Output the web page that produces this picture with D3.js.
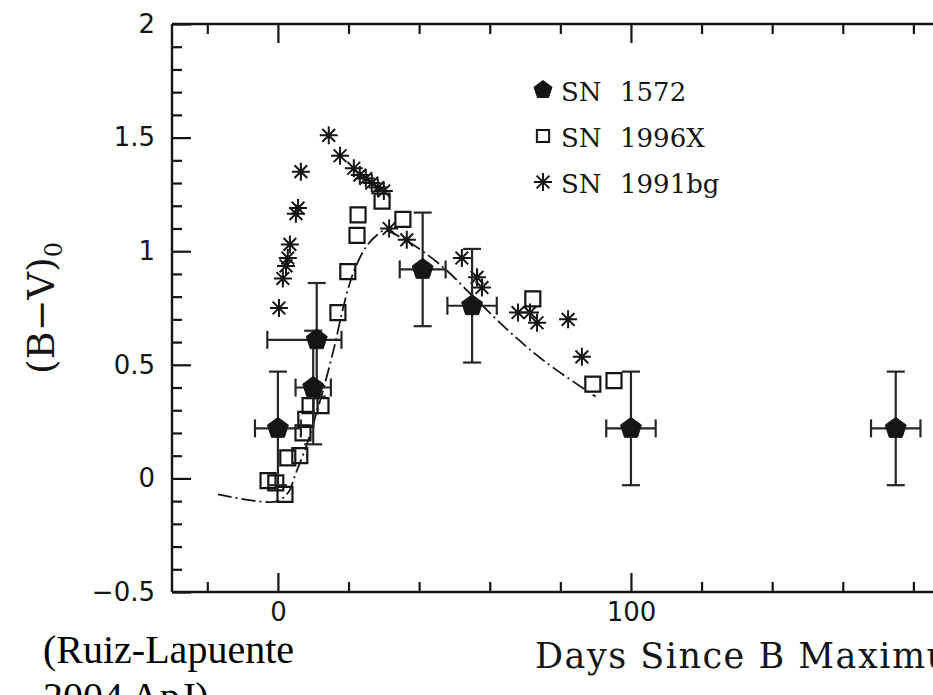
<!DOCTYPE html>
<html>
<head>
<meta charset="utf-8">
<script src="https://cdn.jsdelivr.net/npm/d3@7"></script>
<style>
  html, body { margin: 0; padding: 0; background: #fff; }
  svg { display: block; overflow: hidden; }
</style>
</head>
<body>
<svg id="chart" width="933" height="695"></svg>
<script>
// ---------------- DATA ----------------
// SN 1572 (filled pentagons with error bars)
const sn1572Day   = [0, 10, 11, 41, 55, 100, 175];
const sn1572BV    = [0.22, 0.40, 0.61, 0.92, 0.76, 0.22, 0.22];
const sn1572DayLo = [6.5, 5, 14, 6.5, 7, 7, 7];
const sn1572DayHi = [6.5, 5, 7, 6.5, 7, 7, 7];
const sn1572BVErr = [0.25, 0.25, 0.25, 0.25, 0.25, 0.25, 0.25];

// SN 1996X (open squares)
const sn1996xDay = [-2.8, -0.6, 2.0, 2.8, 6.2, 7.1, 7.9, 9.1, 12.2, 17.0, 19.8, 22.4, 22.7, 29.5, 35.4, 72.2, 89.2, 95.2];
const sn1996xBV  = [-0.01, -0.02, -0.07, 0.09, 0.10, 0.20, 0.26, 0.32, 0.32, 0.73, 0.91, 1.07, 1.16, 1.22, 1.14, 0.79, 0.415, 0.43];

// SN 1991bg (asterisks)
const sn1991bgDay = [14.4, 17.6, 21.5, 23.2, 24.9, 26.6, 28.3, 30.0, 31.5, 6.5, 5.7, 5.1, 3.4, 2.8, 2.3, 1.4, 0.3, 36.5, 52.1, 56.4, 57.8, 68.0, 71.4, 73.4, 82.2, 86.1];
const sn1991bgBV  = [1.51, 1.42, 1.365, 1.335, 1.32, 1.30, 1.28, 1.265, 1.10, 1.35, 1.19, 1.165, 1.03, 0.97, 0.935, 0.88, 0.75, 1.05, 0.97, 0.885, 0.84, 0.73, 0.73, 0.685, 0.70, 0.535];

// Template curve (dash-dot)
const curveDay = [-17, -6, 0, 3, 5, 8, 10, 13, 16, 18, 20, 22, 25, 28, 30, 36, 46, 56, 66, 76, 90];
const curveBV  = [-0.07, -0.10, -0.10, -0.06, 0.02, 0.14, 0.24, 0.40, 0.58, 0.72, 0.84, 0.93, 1.02, 1.07, 1.09, 1.05, 0.94, 0.79, 0.64, 0.51, 0.36];

// Ticks
const xMajorTicks = [0, 100];
const xMajorLabels = ["0", "100"];
const xMinorTicks = [-20, 20, 40, 60, 80, 120, 140, 160, 180];
const yMajorTicks = [-0.5, 0, 0.5, 1, 1.5, 2];
const yMajorLabels = ["\u22120.5", "0", "0.5", "1", "1.5", "2"];
const yMinorTicks = [-0.4, -0.3, -0.2, -0.1, 0.1, 0.2, 0.3, 0.4, 0.6, 0.7, 0.8, 0.9, 1.1, 1.2, 1.3, 1.4, 1.6, 1.7, 1.8, 1.9];

const legendNames = ["1572", "1996X", "1991bg"];
const xTitle = "Days Since B Maximum";
const noteLines = ["(Ruiz-Lapuente", "2004 ApJ)"];

// ---------------- DRAW ----------------
const svg = d3.select("#chart");
const ink = "#151515";
const x = d3.scaleLinear().domain([-30, 200]).range([172, 984]);
const y = d3.scaleLinear().domain([-0.5, 2]).range([592, 24]);

const tickFont = "'DejaVu Sans', sans-serif";
const serif = "'DejaVu Serif', serif";

function styleAxis(g) {
  g.select(".domain").remove();
  g.selectAll(".tick line").attr("stroke", ink).attr("stroke-width", 2.2);
  g.selectAll(".tick text").attr("fill", ink).style("font-family", tickFont).style("font-size", "26px");
}

// bottom axis
svg.append("g").attr("transform", `translate(0,${y(-0.5)})`)
  .call(d3.axisBottom(x).tickValues(xMajorTicks).tickSize(-19).tickPadding(11)
    .tickFormat((d, i) => xMajorLabels[i])).call(styleAxis);
svg.append("g").attr("transform", `translate(0,${y(-0.5)})`)
  .call(d3.axisBottom(x).tickValues(xMinorTicks).tickSize(-10).tickFormat("")).call(styleAxis);
// top axis
svg.append("g").attr("transform", `translate(0,${y(2)})`)
  .call(d3.axisTop(x).tickValues(xMajorTicks).tickSize(-19).tickFormat("")).call(styleAxis);
svg.append("g").attr("transform", `translate(0,${y(2)})`)
  .call(d3.axisTop(x).tickValues(xMinorTicks).tickSize(-10).tickFormat("")).call(styleAxis);
// left axis
svg.append("g").attr("transform", `translate(${x(-30)},0)`)
  .call(d3.axisLeft(y).tickValues(yMajorTicks).tickSize(-19).tickPadding(17)
    .tickFormat((d, i) => yMajorLabels[i])).call(styleAxis);
svg.append("g").attr("transform", `translate(${x(-30)},0)`)
  .call(d3.axisLeft(y).tickValues(yMinorTicks).tickSize(-10).tickFormat("")).call(styleAxis);

// frame lines
const frame = svg.append("g").attr("stroke", ink).attr("stroke-width", 2.4).attr("fill", "none");
frame.append("line").attr("x1", x(-30)).attr("x2", x(200)).attr("y1", y(-0.5)).attr("y2", y(-0.5));
frame.append("line").attr("x1", x(-30)).attr("x2", x(200)).attr("y1", y(2)).attr("y2", y(2));
frame.append("line").attr("x1", x(-30)).attr("x2", x(-30)).attr("y1", y(-0.5)).attr("y2", y(2));

// template curve
const curvePts = curveDay.map((d, i) => [d, curveBV[i]]);
svg.append("path")
  .attr("d", d3.line().x(d => x(d[0])).y(d => y(d[1])).curve(d3.curveCatmullRom.alpha(0.5))(curvePts))
  .attr("fill", "none").attr("stroke", ink).attr("stroke-width", 1.8)
  .attr("stroke-dasharray", "14,4,2,4");

// symbols
const pentagon = {
  draw(ctx, size) {
    const r = Math.sqrt(size);
    for (let i = 0; i < 5; i++) {
      const a = -Math.PI / 2 + i * 2 * Math.PI / 5;
      const px = r * Math.cos(a), py = r * Math.sin(a);
      if (i === 0) ctx.moveTo(px, py); else ctx.lineTo(px, py);
    }
    ctx.closePath();
  }
};
const star8 = {
  draw(ctx, size) {
    const r = Math.sqrt(size);
    for (let i = 0; i < 4; i++) {
      const a = i * Math.PI / 4;
      ctx.moveTo(-r * Math.cos(a), -r * Math.sin(a));
      ctx.lineTo(r * Math.cos(a), r * Math.sin(a));
    }
  }
};

// SN 1996X squares
const sqData = sn1996xDay.map((d, i) => ({ d, v: sn1996xBV[i] }));
svg.append("g").selectAll("path").data(sqData).join("path")
  .attr("transform", p => `translate(${x(p.d)},${y(p.v)})`)
  .attr("d", d3.symbol().type(d3.symbolSquare).size(225))
  .attr("fill", "none").attr("stroke", ink).attr("stroke-width", 2.2);

// SN 1991bg asterisks
const stData = sn1991bgDay.map((d, i) => ({ d, v: sn1991bgBV[i] }));
svg.append("g").selectAll("path").data(stData).join("path")
  .attr("transform", p => `translate(${x(p.d)},${y(p.v)})`)
  .attr("d", d3.symbol().type(star8).size(81))
  .attr("fill", "none").attr("stroke", ink).attr("stroke-width", 2);

// SN 1572 error bars
const pData = sn1572Day.map((d, i) => ({ d, v: sn1572BV[i], lo: sn1572DayLo[i], hi: sn1572DayHi[i], e: sn1572BVErr[i] }));
const eb = svg.append("g").attr("stroke", "#262626").attr("stroke-width", 2.2);
const cap = 9;
pData.forEach(p => {
  const cx = x(p.d), cy = y(p.v);
  const xl = x(p.d - p.lo), xr = x(p.d + p.hi), yt = y(p.v + p.e), yb = y(p.v - p.e);
  eb.append("line").attr("x1", xl).attr("x2", xr).attr("y1", cy).attr("y2", cy);
  eb.append("line").attr("x1", cx).attr("x2", cx).attr("y1", yt).attr("y2", yb);
  eb.append("line").attr("x1", xl).attr("x2", xl).attr("y1", cy - cap).attr("y2", cy + cap);
  eb.append("line").attr("x1", xr).attr("x2", xr).attr("y1", cy - cap).attr("y2", cy + cap);
  eb.append("line").attr("x1", cx - cap).attr("x2", cx + cap).attr("y1", yt).attr("y2", yt);
  eb.append("line").attr("x1", cx - cap).attr("x2", cx + cap).attr("y1", yb).attr("y2", yb);
});
svg.append("g").selectAll("path").data(pData).join("path")
  .attr("transform", p => `translate(${x(p.d)},${y(p.v)})`)
  .attr("d", d3.symbol().type(pentagon).size(121))
  .attr("fill", ink).attr("stroke", ink).attr("stroke-width", 1);

// legend
const legendTypes = [pentagon, d3.symbolSquare, star8];
const legendSizes = [100, 150, 81];
const lg = svg.append("g");
legendNames.forEach((name, i) => {
  const ly = 90 + i * 46;
  const sym = lg.append("path").attr("transform", `translate(543,${ly})`)
    .attr("d", d3.symbol().type(legendTypes[i]).size(legendSizes[i]));
  if (i === 0) sym.attr("fill", ink);
  else sym.attr("fill", "none").attr("stroke", ink).attr("stroke-width", 2);
  const t = lg.append("text").attr("y", ly + 11).attr("fill", ink)
    .style("font-family", serif).style("font-size", "26px");
  t.append("tspan").attr("x", 561).text("SN");
  t.append("tspan").attr("x", 620).text(name);
});

// axis titles
const yt = svg.append("text").attr("transform", "translate(54,308) rotate(-90)")
  .attr("text-anchor", "middle").attr("fill", ink)
  .style("font-family", serif).style("font-size", "38px");
yt.append("tspan").text("(B\u2212V)");
yt.append("tspan").attr("dy", 8).style("font-size", "24px").text("0");

svg.append("text").attr("x", 535).attr("y", 668).attr("fill", ink)
  .style("font-family", serif).style("font-size", "35px").style("letter-spacing", "1.5px").text(xTitle);

// note
noteLines.forEach((s, i) => {
  svg.append("text").attr("x", 43).attr("y", 663 + i * 47).attr("fill", "#000")
    .style("font-family", "'Liberation Serif', 'Times New Roman', serif").style("font-size", "40px").text(s);
});
</script>
</body>
</html>
